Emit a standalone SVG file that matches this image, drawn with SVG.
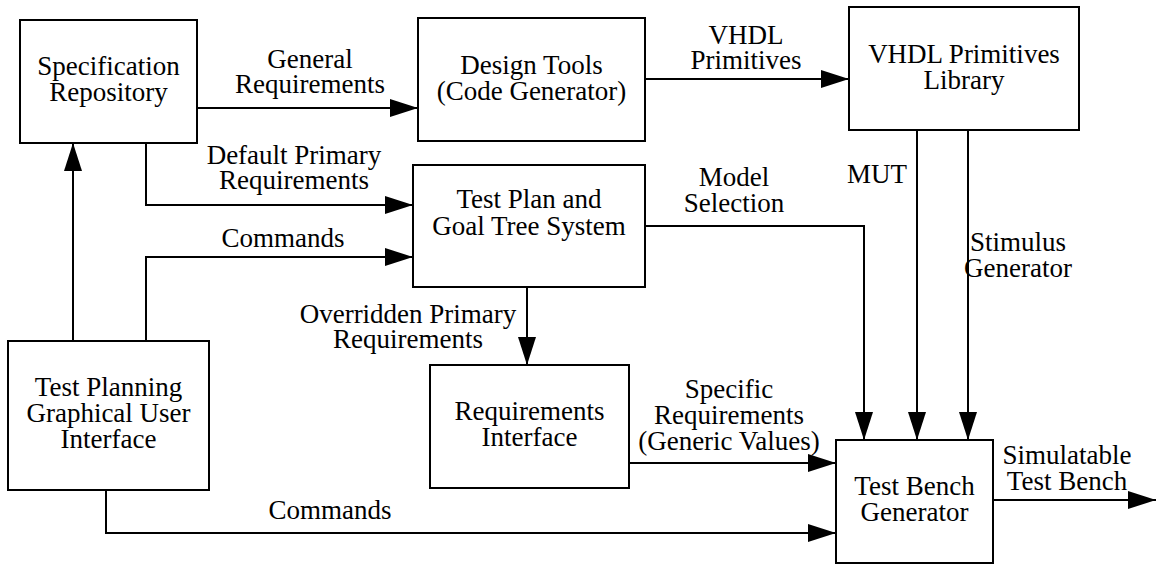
<svg xmlns="http://www.w3.org/2000/svg" width="1158" height="565" viewBox="0 0 1158 565">
  <style>
    .box { fill: #fff; stroke: #000; stroke-width: 2; }
    .wire { fill: none; stroke: #000; stroke-width: 2; }
    .arrow { marker-end: url(#head); }
    text { font-family: "Liberation Serif", "Times New Roman", serif; font-size: 27px; fill: #000; text-anchor: middle; }
  </style>
  <defs>
    <!-- filled triangular arrowhead, fixed size in user units -->
    <marker id="head" markerUnits="userSpaceOnUse" markerWidth="28" markerHeight="18" refX="28" refY="9" orient="auto">
      <path d="M0,0 L28,9 L0,18 Z" fill="#000"/>
    </marker>
  </defs>

  <rect width="1158" height="565" fill="#fff"/>

  <!-- connectors and their labels -->
  <g id="connectors">
    <path class="wire arrow" d="M197,108 H418"/>
    <path class="wire arrow" d="M645,79 H849"/>
    <path class="wire arrow" d="M146,143 V205 H413"/>
    <path class="wire arrow" d="M73,341 V143"/>
    <path class="wire arrow" d="M146,341 V257 H413"/>
    <path class="wire arrow" d="M645,226 H864 V440"/>
    <path class="wire arrow" d="M917,130 V440"/>
    <path class="wire arrow" d="M968,130 V440"/>
    <path class="wire arrow" d="M527,287 V365"/>
    <path class="wire arrow" d="M629,463 H836"/>
    <path class="wire arrow" d="M106,490 V533 H836"/>
    <path class="wire arrow" d="M993,500 H1156"/>

    <text x="310" y="68">General</text>
    <text x="310" y="93">Requirements</text>
    <text x="746" y="44">VHDL</text>
    <text x="746" y="69">Primitives</text>
    <text x="294" y="164">Default Primary</text>
    <text x="294" y="189">Requirements</text>
    <text x="283" y="247">Commands</text>
    <text x="734" y="186">Model</text>
    <text x="734" y="212">Selection</text>
    <text x="877" y="183">MUT</text>
    <text x="1018" y="251">Stimulus</text>
    <text x="1018" y="277">Generator</text>
    <text x="408" y="323">Overridden Primary</text>
    <text x="408" y="348">Requirements</text>
    <text x="729" y="398">Specific</text>
    <text x="729" y="424">Requirements</text>
    <text x="729" y="450">(Generic Values)</text>
    <text x="330" y="519">Commands</text>
    <text x="1067" y="464">Simulatable</text>
    <text x="1067" y="490">Test Bench</text>
  </g>

  <!-- nodes -->
  <g id="spec-repository">
    <rect class="box" x="20" y="20" width="177" height="123"/>
    <text x="108.5" y="75">Specification</text>
    <text x="108.5" y="101">Repository</text>
  </g>
  <g id="design-tools">
    <rect class="box" x="418" y="18" width="227" height="123"/>
    <text x="531.5" y="74">Design Tools</text>
    <text x="531.5" y="100">(Code Generator)</text>
  </g>
  <g id="vhdl-library">
    <rect class="box" x="849" y="7" width="230" height="123"/>
    <text x="964" y="63">VHDL Primitives</text>
    <text x="964" y="89">Library</text>
  </g>
  <g id="test-plan">
    <rect class="box" x="413" y="165" width="232" height="122"/>
    <text x="529" y="208">Test Plan and</text>
    <text x="529" y="235">Goal Tree System</text>
  </g>
  <g id="test-planning-gui">
    <rect class="box" x="8" y="341" width="201" height="149"/>
    <text x="108.5" y="396">Test Planning</text>
    <text x="108.5" y="422">Graphical User</text>
    <text x="108.5" y="448">Interface</text>
  </g>
  <g id="requirements-interface">
    <rect class="box" x="430" y="365" width="199" height="123"/>
    <text x="529.5" y="420">Requirements</text>
    <text x="529.5" y="446">Interface</text>
  </g>
  <g id="test-bench-generator">
    <rect class="box" x="836" y="440" width="157" height="123"/>
    <text x="914.5" y="495">Test Bench</text>
    <text x="914.5" y="521">Generator</text>
  </g>
</svg>
